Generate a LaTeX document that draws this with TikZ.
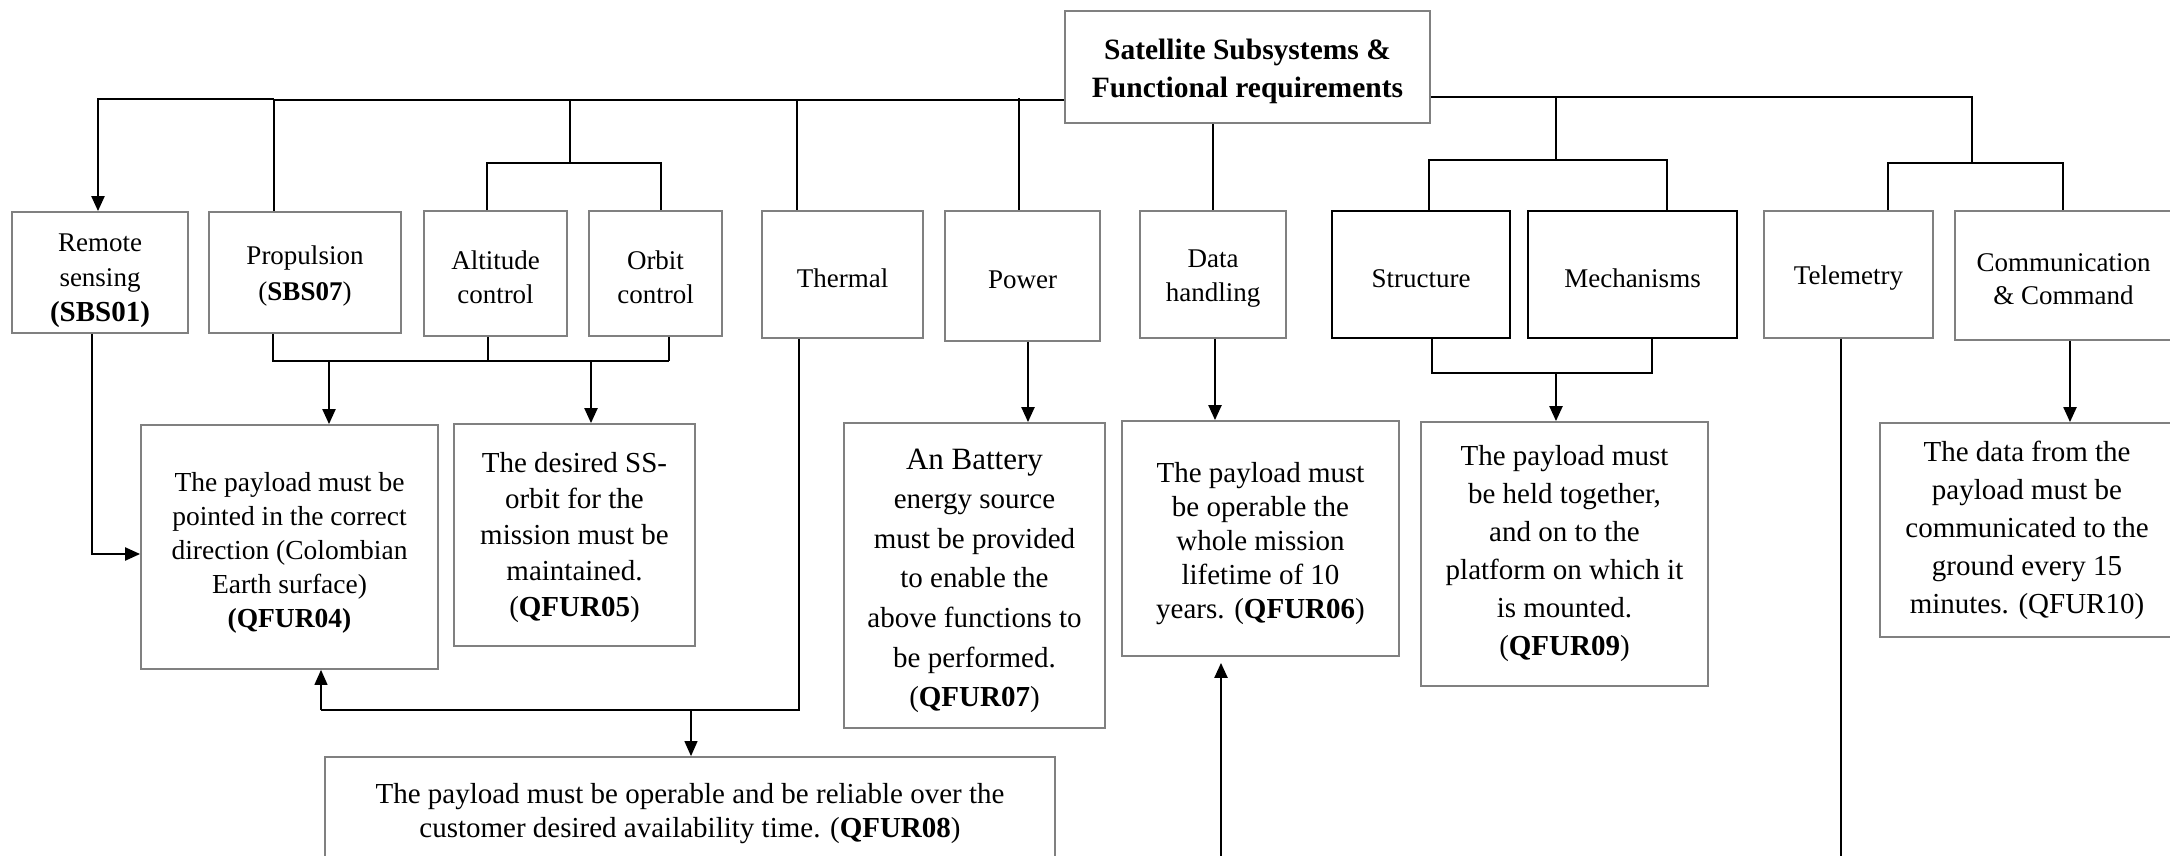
\documentclass[tikz,border=0pt]{standalone}
\usepackage{fontspec}
\setmainfont{Liberation Serif}
\usetikzlibrary{arrows.meta}
\definecolor{boxgray}{RGB}{128,128,128}
% invisible strut on the first line: pushes a text block a little lower in its box
\newcommand\padtop[1]{\rule{0pt}{#1}}
\tikzset{
  box/.style={draw=boxgray, line width=0.9pt, fill=white, inner sep=0pt,
    align=center, font=\fontsize{13.5}{17}\selectfont},
  darkbox/.style={box, draw=black, line width=1.2pt},
  req/.style={box, font=\fontsize{14.5}{17}\selectfont},
  wire/.style={line width=0.6pt},
  heavy/.style={line width=1.1pt},
  tip/.style={-{Triangle[length=7.5pt,width=6.5pt]}},
}
\begin{document}
\begin{tikzpicture}[x=0.5pt,y=-0.5pt]
\useasboundingbox (0,0) rectangle (2170,856);
\clip (0,0) rectangle (2170,856);

% root
\node[box, minimum width=182.5pt, minimum height=56pt,
  font=\fontsize{14.75}{19}\selectfont\bfseries] (title) at (1247.5,67)
  {\padtop{14.5pt}Satellite Subsystems \&\\Functional requirements};

% subsystems
\node[box, minimum width=88pt, minimum height=60.5pt, font=\fontsize{13.5}{17.5}\selectfont]
  (rs) at (100,272.5) {\padtop{17pt}Remote\\sensing\\{\fontsize{14.5}{17.5}\selectfont\bfseries (SBS01)}};
\node[box, minimum width=96pt, minimum height=60.5pt, font=\fontsize{13.5}{18}\selectfont]
  (prop) at (305,272.5) {\padtop{13pt}Propulsion\\(\textbf{SBS07})};
\node[box, minimum width=71.5pt, minimum height=62.5pt] (alt) at (495.5,273.5) {\padtop{13pt}Altitude\\control};
\node[box, minimum width=66.5pt, minimum height=62.5pt] (orb) at (655.5,273.5) {\padtop{13pt}Orbit\\control};
\node[box, minimum width=80.5pt, minimum height=63.5pt] (therm) at (842.5,274.5) {\padtop{13pt}Thermal};
\node[box, minimum width=77.5pt, minimum height=65pt] (power) at (1022.5,276) {\padtop{13pt}Power};
\node[box, minimum width=73pt, minimum height=63.5pt] (data) at (1213,274.5) {\padtop{13pt}Data\\handling};
\node[darkbox, minimum width=89pt, minimum height=63.5pt] (struct) at (1421,274.5) {\padtop{13pt}Structure};
\node[darkbox, minimum width=104.5pt, minimum height=63.5pt] (mech) at (1632.5,274.5) {\padtop{13pt}Mechanisms};
\node[box, minimum width=84.5pt, minimum height=63.5pt] (telem) at (1848.5,274.5) {\padtop{13pt}Telemetry};
\node[box, minimum width=108.5pt, minimum height=64.5pt, font=\fontsize{13.5}{16.5}\selectfont]
  (comm) at (2063.5,275.5) {\padtop{12.5pt}Communication\\\& Command};

% requirements
\node[req, minimum width=148.5pt, minimum height=122pt, font=\fontsize{13.75}{17}\selectfont]
  (q04) at (289.5,547)
  {\padtop{15pt}The payload must be\\pointed in the correct\\direction (Colombian\\Earth surface)\\\textbf{(QFUR04)}};
\node[req, minimum width=120.5pt, minimum height=111pt, font=\fontsize{14.5}{18}\selectfont]
  (q05) at (574.5,535)
  {\padtop{13pt}The desired SS-\\orbit for the\\mission must be\\maintained.\\(\textbf{QFUR05})};
\node[req, minimum width=130.5pt, minimum height=152.5pt, font=\fontsize{14.5}{19.8}\selectfont]
  (q07) at (974.5,575.5)
  {{\fontsize{15.5}{19.8}\selectfont\padtop{15.4pt}An Battery}\\energy source\\must be provided\\to enable the\\above functions to\\be performed.\\(\textbf{QFUR07})};
\node[req, minimum width=138.5pt, minimum height=117.5pt] (q06) at (1260.5,538.5)
  {\padtop{15pt}The payload must\\be operable the\\whole mission\\lifetime of 10\\years. (\textbf{QFUR06})};
\node[req, minimum width=143.5pt, minimum height=132pt, font=\fontsize{14.5}{19}\selectfont]
  (q09) at (1564.5,554)
  {The payload must\\be held together,\\and on to the\\platform on which it\\is mounted.\\(\textbf{QFUR09})};
\node[req, minimum width=147pt, minimum height=107pt, font=\fontsize{14.5}{19}\selectfont]
  (q10) at (2027,530)
  {The data from the\\payload must be\\communicated to the\\ground every 15\\minutes. (QFUR10)};
\node[req, minimum width=365pt, minimum height=54pt] (q08) at (690,811)
  {\padtop{12.7pt}The payload must be operable and be reliable over the\\customer desired availability time. (\textbf{QFUR08})};

% loose ends leaving the picture
\coordinate (dhin) at (1221,880);
\coordinate (tmout) at (1841,880);

% left branch of the root
\draw[wire] (title.west |- 0,100) -- (274,100);
\draw[heavy,tip] (274,99) -- (98,99) -- (rs.north -| 98,0);
\draw[wire] (274,100) -- (prop.north -| 274,0);
\draw[wire] (570,100) -- (570,163);
\draw[wire] (alt.north -| 487,0) -- (487,163) -- (661,163) -- (orb.north -| 661,0);
\draw[wire] (797,100) -- (therm.north -| 797,0);
\draw[wire] (1019,98) -- (power.north -| 1019,0);
\draw[wire] (title.south -| 1213,0) -- (data.north -| 1213,0);

% right branch of the root
\draw[wire] (title.east |- 0,97) -- (1972,97) -- (1972,163);
\draw[wire] (1556,97) -- (1556,160);
\draw[wire] (struct.north -| 1429,0) -- (1429,160) -- (1667,160) -- (mech.north -| 1667,0);
\draw[wire] (telem.north -| 1888,0) -- (1888,163) -- (2063,163) -- (comm.north -| 2063,0);

% subsystems to requirements
\draw[heavy,tip] (rs.south -| 92,0) -- (92,554) -- (q04.west |- 0,554);
\draw[wire] (prop.south -| 273,0) -- (273,361) -- (329,361);
\draw[wire] (alt.south -| 488,0) -- (488,361);
\draw[wire] (orb.south -| 669,0) -- (669,361);
\draw[heavy] (329,361) -- (669,361);
\draw[heavy,tip] (329,361) -- (q04.north -| 329,0);
\draw[heavy,tip] (591,361) -- (q05.north -| 591,0);

\draw[wire] (therm.south -| 799,0) -- (799,710) -- (321,710);
\draw[wire,tip] (321,710) -- (q04.south -| 321,0);
\draw[wire,tip] (691,710) -- (q08.north -| 691,0);

\draw[heavy,tip] (power.south -| 1028,0) -- (q07.north -| 1028,0);
\draw[heavy,tip] (data.south -| 1215,0) -- (q06.north -| 1215,0);
\draw[heavy,tip,shorten >=3pt] (dhin) -- (q06.south -| 1221,0);

\draw[wire] (struct.south -| 1432,0) -- (1432,373) -- (1652,373) -- (mech.south -| 1652,0);
\draw[heavy,tip] (1556,373) -- (q09.north -| 1556,0);

\draw[wire] (telem.south -| 1841,0) -- (tmout);
\draw[heavy,tip] (comm.south -| 2070,0) -- (q10.north -| 2070,0);
\end{tikzpicture}
\end{document}
